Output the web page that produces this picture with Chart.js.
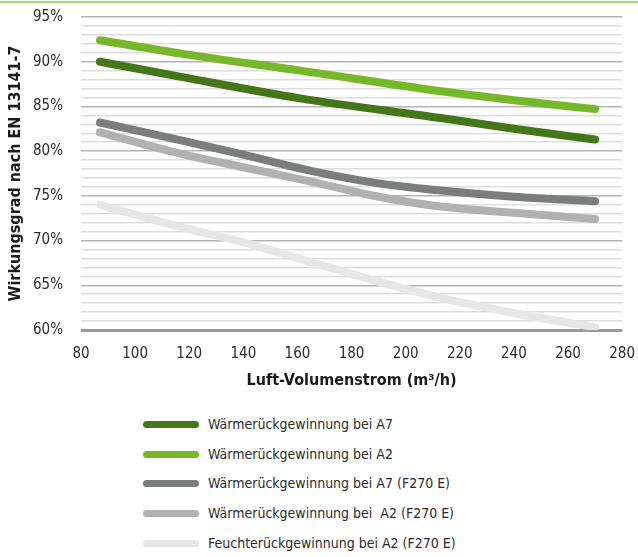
<!DOCTYPE html>
<html>
<head>
<meta charset="utf-8">
<script src="https://cdn.jsdelivr.net/npm/chart.js@4"></script>
<style>
  html, body { margin: 0; padding: 0; background: #fff; }
  body { width: 638px; height: 557px; position: relative; overflow: hidden;
         font-family: "Liberation Sans Narrow", "DejaVu Sans Condensed", "Liberation Sans", sans-serif; }
  #topline { position: absolute; left: 0; top: 1px; width: 638px; height: 2px; background: #a6d174; z-index: 2; }
  #wrap { position: absolute; left: 0; top: -10px; width: 642px; height: 410px; }
  #legend { position: absolute; left: 143px; top: 410px; }
  .item { position: absolute; left: 0; height: 20px; white-space: pre; }
  .swatch { position: absolute; left: 0; top: 7px; width: 56px; height: 7px; border-radius: 4px; }
  .label { position: absolute; left: 65px; top: 0; font-size: 14px; line-height: 20px; color: #2b2b2b; }
</style>
</head>
<body>
<div id="wrap"><canvas id="c" width="642" height="410"></canvas></div>
<div id="topline"></div>
<div id="legend"></div>
<script>
// ---- data ----
const seriesNames = [
  "Wärmerückgewinnung bei A7",
  "Wärmerückgewinnung bei A2",
  "Wärmerückgewinnung bei A7 (F270 E)",
  "Wärmerückgewinnung bei  A2 (F270 E)",
  "Feuchterückgewinnung bei A2 (F270 E)"
];
const xA7 = [87, 117, 161, 213, 240, 270];
const yA7 = [90.0, 88.3, 85.9, 83.7, 82.5, 81.3];
const xA2 = [87, 117, 161, 213, 240, 270];
const yA2 = [92.4, 90.9, 89.0, 86.7, 85.7, 84.7];
const xA7F = [87, 117, 140, 165, 190, 213, 240, 270];
const yA7F = [83.2, 81.2, 79.6, 77.8, 76.4, 75.6, 74.9, 74.4];
const xA2F = [87, 117, 140, 165, 190, 213, 240, 270];
const yA2F = [82.1, 79.7, 78.2, 76.6, 74.9, 73.8, 73.1, 72.4];
const xFeu = [87, 117, 140, 165, 190, 213, 240, 270];
const yFeu = [74.0, 71.5, 69.8, 67.6, 65.4, 63.6, 61.9, 60.3];
const colors = ["#46761a", "#76b82a", "#7b7d7c", "#b1b1b1", "#e6e6e6"];

const xs = [xA7, xA2, xA7F, xA2F, xFeu];
const ys = [yA7, yA2, yA7F, yA2F, yFeu];

const FONT = '"Liberation Sans Narrow", "DejaVu Sans Condensed", "Liberation Sans", sans-serif';

const datasets = seriesNames.map((name, i) => ({
  label: name,
  data: xs[i].map((x, j) => ({ x: x, y: ys[i][j] })),
  borderColor: colors[i],
  backgroundColor: colors[i],
  borderWidth: 8,
  borderCapStyle: 'round',
  borderJoinStyle: 'round',
  pointRadius: 0,
  cubicInterpolationMode: 'monotone',
  fill: false
})).reverse();

const chart = new Chart(document.getElementById('c'), {
  type: 'line',
  data: { datasets },
  options: {
    responsive: false,
    animation: false,
    events: [],
    layout: { padding: { left: 0, right: 6, top: 6, bottom: 0 } },
    plugins: { legend: { display: false }, tooltip: { enabled: false } },
    scales: {
      x: {
        type: 'linear', min: 80, max: 280,
        ticks: { stepSize: 20, padding: 7, color: '#2b2b2b', font: { family: FONT, size: 15 } },
        grid: { display: false },
        border: { display: false },
        title: { display: true, text: 'Luft-Volumenstrom (m³/h)', color: '#1a1a1a',
                 font: { family: FONT, size: 16, weight: 'bold' }, padding: { top: 0, bottom: 10 } },
        afterFit: s => { s.height = 70; }
      },
      y: {
        min: 60, max: 95,
        ticks: { stepSize: 1, autoSkip: false, padding: 18, color: '#2b2b2b',
                 font: { family: FONT, size: 15 },
                 callback: v => (v % 5 === 0 ? v + '%' : '') },
        grid: {
          drawTicks: false,
          color: ctx => ctx.tick.value === 60 ? '#9a9a9a' : (ctx.tick.value % 5 === 0 ? '#b4b4b4' : '#dedede'),
          lineWidth: ctx => ctx.tick.value === 60 ? 3 : 1.5
        },
        border: { display: false },
        title: { display: true, text: 'Wirkungsgrad nach EN 13141-7', color: '#1a1a1a',
                 font: { family: FONT, size: 16, weight: 'bold' }, padding: { top: 6, bottom: 4 } },
        afterFit: s => { s.width = 81; }
      }
    }
  }
});

// HTML legend built from the chart's datasets (original order)
const leg = document.getElementById('legend');
const rowTops = [4, 33.7, 63.4, 93.1, 122.8];
seriesNames.forEach((name, i) => {
  const it = document.createElement('div');
  it.className = 'item';
  it.style.top = (rowTops[i]) + 'px';
  const sw = document.createElement('div');
  sw.className = 'swatch';
  sw.style.background = colors[i];
  const lb = document.createElement('div');
  lb.className = 'label';
  lb.textContent = name;
  it.appendChild(sw); it.appendChild(lb);
  leg.appendChild(it);
});
</script>
</body>
</html>
